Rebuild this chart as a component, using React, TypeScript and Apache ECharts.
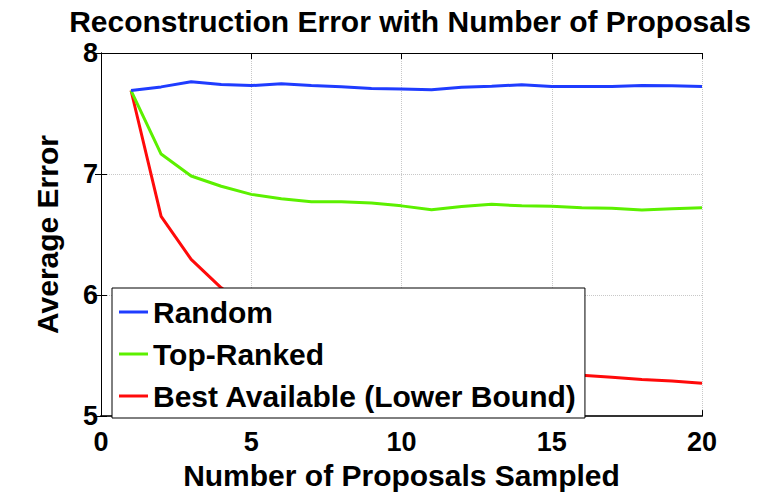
import React, { useEffect, useRef } from "react";
import * as echarts from "echarts";

const xValues = [1, 2, 3, 4, 5, 6, 7, 8, 9, 10, 11, 12, 13, 14, 15, 16, 17, 18, 19, 20];
const randomErr = [7.69, 7.72, 7.763, 7.739, 7.731, 7.745, 7.731, 7.721, 7.707, 7.702, 7.697, 7.718, 7.726, 7.737, 7.724, 7.724, 7.724, 7.731, 7.729, 7.724];
const topRankedErr = [7.69, 7.165, 6.984, 6.899, 6.832, 6.795, 6.771, 6.771, 6.76, 6.737, 6.705, 6.731, 6.75, 6.737, 6.734, 6.721, 6.718, 6.702, 6.713, 6.721];
const bestErr = [7.69, 6.65, 6.295, 6.06, 5.88, 5.76, 5.66, 5.59, 5.53, 5.49, 5.45, 5.42, 5.4, 5.38, 5.36, 5.337, 5.32, 5.303, 5.29, 5.271];
const seriesNames = ["Random", "Top-Ranked", "Best Available (Lower Bound)"];
const seriesColors = ["#1f3cff", "#5cf000", "#ff0a0a"];

const FONT = "'Liberation Sans', Arial, Helvetica, sans-serif";

export default function App() {
  const ref = useRef<HTMLDivElement>(null);
  useEffect(() => {
    if (!ref.current) return;
    const chart = echarts.init(ref.current, undefined, { renderer: "svg" });
    const toPairs = (ys: number[]) => xValues.map((x, i) => [x, ys[i]]);
    const allData = [randomErr, topRankedErr, bestErr];
    chart.setOption({
      animation: false,
      backgroundColor: "#ffffff",
      title: {
        text: "Reconstruction Error with Number of Proposals",
        left: 405,
        textAlign: "center",
        top: 1,
        textStyle: { fontFamily: FONT, fontWeight: "bold", fontSize: 30, color: "#000" },
      },
      grid: { left: 101, top: 53, right: 73, bottom: 66 },
      legend: {
        orient: "vertical",
        left: 112,
        top: 288,
        padding: [9, 8, 7, 7],
        itemGap: 12,
        itemWidth: 29,
        itemHeight: 3,
        icon: "rect",
        backgroundColor: "#ffffff",
        borderColor: "#000",
        borderWidth: 1,
        borderRadius: 0,
        data: seriesNames,
        textStyle: { fontFamily: FONT, fontWeight: "bold", fontSize: 30, color: "#000", lineHeight: 30 },
      },
      xAxis: [
        {
          type: "value",
          min: 0,
          max: 20,
          interval: 5,
          position: "bottom",
          name: "Number of Proposals Sampled",
          nameLocation: "middle",
          nameGap: 38,
          nameTextStyle: { fontFamily: FONT, fontWeight: "bold", fontSize: 30, color: "#000" },
          axisLine: { lineStyle: { color: "#333", width: 2 } },
          axisTick: { inside: true, length: 6, lineStyle: { color: "#000" } },
          axisLabel: { fontFamily: FONT, fontWeight: "bold", fontSize: 27, color: "#000", margin: 12 },
          splitLine: { show: true, lineStyle: { type: "dotted", color: "#c8c8c8" } },
        },
        {
          type: "value",
          min: 0,
          max: 20,
          interval: 5,
          position: "top",
          axisLine: { lineStyle: { color: "#000", width: 1 } },
          axisTick: { inside: true, length: 6, lineStyle: { color: "#000" } },
          axisLabel: { show: false },
          splitLine: { show: false },
        },
      ],
      yAxis: [
        {
          type: "value",
          min: 5,
          max: 8,
          interval: 1,
          position: "left",
          name: "Average Error",
          nameLocation: "middle",
          nameGap: 39,
          nameTextStyle: { fontFamily: FONT, fontWeight: "bold", fontSize: 30, color: "#000" },
          axisLine: { lineStyle: { color: "#000", width: 1 } },
          axisTick: { inside: true, length: 6, lineStyle: { color: "#000" } },
          axisLabel: { fontFamily: FONT, fontWeight: "bold", fontSize: 27, color: "#000", margin: 3 },
          splitLine: { show: true, lineStyle: { type: "dotted", color: "#c8c8c8" } },
        },
        {
          type: "value",
          min: 5,
          max: 8,
          interval: 1,
          position: "right",
          axisLine: { lineStyle: { color: "#000", width: 1 } },
          axisTick: { inside: true, length: 6, lineStyle: { color: "#000" } },
          axisLabel: { show: false },
          splitLine: { show: false },
        },
      ],
      series: seriesNames.map((name, i) => ({
        name,
        type: "line",
        data: toPairs(allData[i]),
        showSymbol: false,
        symbol: "none",
        lineStyle: { color: seriesColors[i], width: 3 },
        itemStyle: { color: seriesColors[i] },
        z: 3 - i,
      })),
    });
    return () => chart.dispose();
  }, []);
  return <div ref={ref} style={{ position: "fixed", left: 0, top: 0, width: 775, height: 495 }} />;
}
